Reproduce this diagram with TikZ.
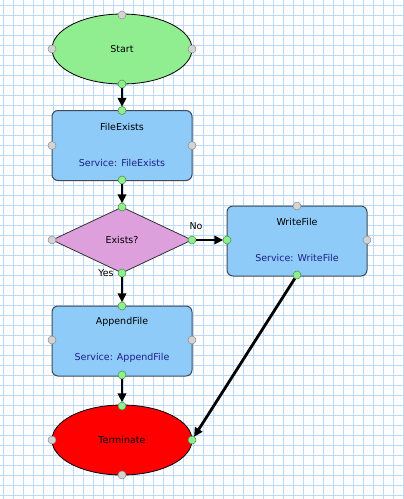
\documentclass[tikz,border=0pt]{standalone}
\usepackage{fontspec}
\setmainfont{DejaVu Sans}
\usetikzlibrary{shapes.geometric,arrows.meta}
\definecolor{gridc}{HTML}{BCD9FA}
\definecolor{boxfill}{HTML}{8ECBF8}
\definecolor{boxdraw}{HTML}{3E4A58}
\definecolor{svc}{HTML}{1E1E8C}
\definecolor{startfill}{HTML}{90EE90}
\definecolor{decfill}{HTML}{DDA0DD}
\definecolor{hgray}{HTML}{D4D4D4}
\definecolor{hgrayd}{HTML}{8C8C8C}
\definecolor{hgreen}{HTML}{90EE90}
\definecolor{hgreend}{HTML}{3E8E3E}
\tikzset{
  x=1pt, y=-1pt,
  every node/.style={font=\fontsize{9.5}{11}\selectfont},
  ovalnode/.style={ellipse, draw=black, line width=0.8pt, minimum width=140pt, minimum height=70pt, inner sep=0pt},
  boxnode/.style={rectangle, rounded corners=6pt, draw=boxdraw, line width=1pt, fill=boxfill, minimum width=140pt, minimum height=70pt, inner sep=0pt},
  decnode/.style={diamond, draw=black!80, line width=0.8pt, fill=decfill, minimum width=140pt, minimum height=66pt, inner sep=0pt},
  titletext/.style={text=black},
  svctext/.style={text=svc},
  hg/.style={circle, draw=hgrayd, line width=0.5pt, fill=hgray, minimum size=8pt, inner sep=0pt},
  hn/.style={circle, draw=hgreend, line width=0.5pt, fill=hgreen, minimum size=8pt, inner sep=0pt},
  flow/.style={draw=black, line width=2.8pt, -{Triangle[length=9pt,width=8.5pt]}, shorten >=-0.5pt}
}
\begin{document}
\begin{tikzpicture}
\useasboundingbox (0,0) rectangle (404,499);
\fill[white] (0,0) rectangle (404,499);
\foreach \gx in {3,13,...,403} {\draw[gridc, line width=0.45pt] (\gx,0) -- (\gx,499);}
\foreach \gy in {5,15,...,495} {\draw[gridc, line width=0.45pt] (0,\gy) -- (404,\gy);}

% Start
\node[ovalnode, fill=startfill] (start) at (122,49) {};
\node[titletext] (startt) at (122,49) {Start};
% FileExists
\node[boxnode] (fe) at (122,145.5) {};
\node[titletext] (fet) at (122,127) {FileExists};
\node[svctext] (fes) at (122,162.5) {Service: FileExists};
% Decision
\node[decnode] (dec) at (122,240) {};
\node[titletext] (dect) at (122,240) {Exists?};
\node (nolab) at (196,226) {No};
\node (yeslab) at (106,273.5) {Yes};
% WriteFile
\node[boxnode] (wf) at (297,241) {};
\node[titletext] (wft) at (297,222) {WriteFile};
\node[svctext] (wfs) at (297,258) {Service: WriteFile};
% AppendFile
\node[boxnode] (af) at (122,341) {};
\node[titletext] (aft) at (122,322) {AppendFile};
\node[svctext] (afs) at (122,358) {Service: AppendFile};
% Terminate
\node[ovalnode, fill=red] (term) at (122,440) {};
\node[titletext] (termt) at (122,440) {Terminate};

% handles
\node[hg] (s1) at (122,15) {};
\node[hg] (s2) at (52,49) {};
\node[hg] (s3) at (192,49) {};
\node[hn] (s4) at (122,84) {};
\node[hn] (f1) at (122,110.5) {};
\node[hg] (f2) at (52,145.5) {};
\node[hg] (f3) at (192,145.5) {};
\node[hn] (f4) at (122,180) {};
\node[hn] (d1) at (122,207) {};
\node[hg] (d2) at (52,240) {};
\node[hn] (d3) at (192,240) {};
\node[hn] (d4) at (122,273) {};
\node[hg] (w1) at (297,206) {};
\node[hn] (w2) at (227,240) {};
\node[hg] (w3) at (367,240) {};
\node[hn] (w4) at (297,275) {};
\node[hn] (a1) at (122,306) {};
\node[hg] (a2) at (52,340) {};
\node[hg] (a3) at (192,340) {};
\node[hn] (a4) at (122,375) {};
\node[hn] (t1) at (122,406) {};
\node[hg] (t2) at (52,440) {};
\node[hn] (t3) at (192,440) {};
\node[hg] (t4) at (122,475) {};

% connectors
\draw[flow] (s4) -- (f1);
\draw[flow] (f4) -- (d1);
\draw[flow] (d3) -- (w2);
\draw[flow] (d4) -- (a1);
\draw[flow] (a4) -- (t1);
\draw[flow] (w4) -- (t3);
\end{tikzpicture}
\end{document}
